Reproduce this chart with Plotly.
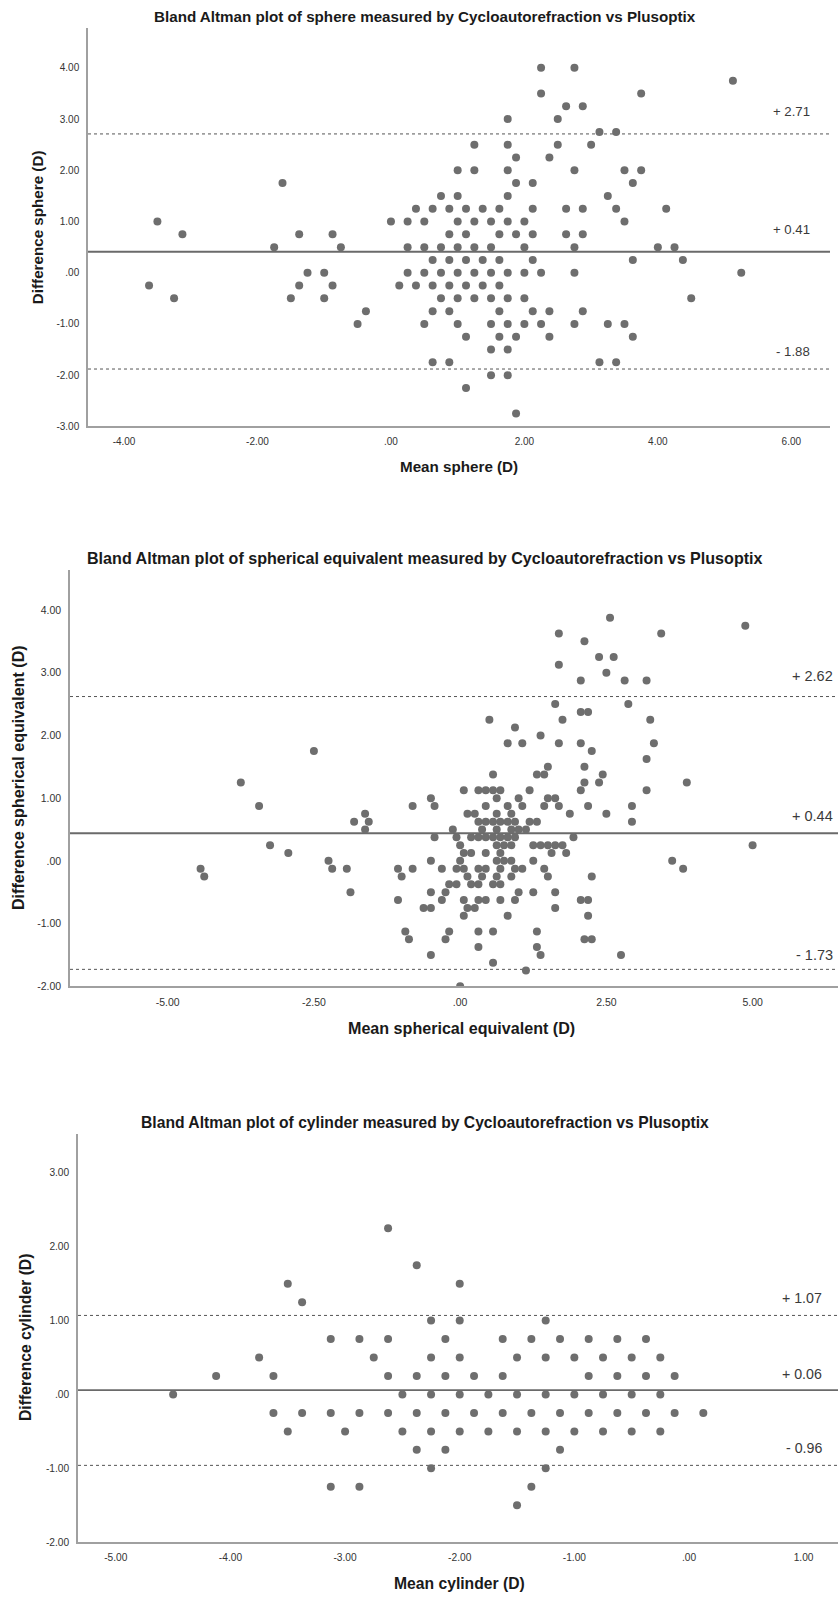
import plotly.graph_objects as go

# ---------------- data ----------------
sphere_mean = [
    2.25, 2.75,
    5.125,
    2.25, 3.75,
    2.625, 2.875,
    1.75, 2.5,
    3.125, 3.375,
    1.25, 1.75, 2.5, 3.0,
    1.875, 2.375,
    1.0, 1.25, 1.75, 2.75, 3.5, 3.75,
    -1.625, 1.875, 2.125, 3.625,
    0.75, 1.0, 1.75, 3.25,
    0.375, 0.625, 0.875, 1.125, 1.375, 1.625, 2.125, 2.625, 2.875, 3.375, 4.125,
    -3.5, 0.0, 0.25, 0.5, 1.0, 1.25, 1.5, 1.75, 2.0, 3.5,
    -3.125, -1.375, -0.875, 0.875, 1.125, 1.625, 1.875, 2.125, 2.625, 2.875,
    -1.75, -0.75, 0.25, 0.5, 0.75, 1.0, 1.25, 1.5, 2.0, 2.75, 4.0, 4.25,
    0.625, 0.875, 1.125, 1.375, 1.625, 2.125, 3.625, 4.375,
    -1.25, -1.0, 0.25, 0.5, 0.75, 1.0, 1.25, 1.5, 1.75, 2.0, 2.25, 2.75, 5.25,
    -3.625, -1.375, -0.875, 0.125, 0.375, 0.625, 0.875, 1.125, 1.375, 1.625,
    -3.25, -1.5, -1.0, 0.75, 1.0, 1.25, 1.5, 1.75, 2.0, 4.5,
    -0.375, 0.625, 0.875, 1.625, 2.125, 2.375, 2.875,
    -0.5, 0.5, 1.0, 1.5, 1.75, 2.0, 2.25, 2.75, 3.25, 3.5,
    1.125, 1.625, 1.875, 2.375, 3.625,
    1.5, 1.75,
    0.625, 0.875, 3.125, 3.375,
    1.5, 1.75,
    1.125,
    1.875,
]
sphere_diff = [
    4.0, 4.0,
    3.75,
    3.5, 3.5,
    3.25, 3.25,
    3.0, 3.0,
    2.75, 2.75,
    2.5, 2.5, 2.5, 2.5,
    2.25, 2.25,
    2.0, 2.0, 2.0, 2.0, 2.0, 2.0,
    1.75, 1.75, 1.75, 1.75,
    1.5, 1.5, 1.5, 1.5,
    1.25, 1.25, 1.25, 1.25, 1.25, 1.25, 1.25, 1.25, 1.25, 1.25, 1.25,
    1.0, 1.0, 1.0, 1.0, 1.0, 1.0, 1.0, 1.0, 1.0, 1.0,
    0.75, 0.75, 0.75, 0.75, 0.75, 0.75, 0.75, 0.75, 0.75, 0.75,
    0.5, 0.5, 0.5, 0.5, 0.5, 0.5, 0.5, 0.5, 0.5, 0.5, 0.5, 0.5,
    0.25, 0.25, 0.25, 0.25, 0.25, 0.25, 0.25, 0.25,
    0.0, 0.0, 0.0, 0.0, 0.0, 0.0, 0.0, 0.0, 0.0, 0.0, 0.0, 0.0, 0.0,
    -0.25, -0.25, -0.25, -0.25, -0.25, -0.25, -0.25, -0.25, -0.25, -0.25,
    -0.5, -0.5, -0.5, -0.5, -0.5, -0.5, -0.5, -0.5, -0.5, -0.5,
    -0.75, -0.75, -0.75, -0.75, -0.75, -0.75, -0.75,
    -1.0, -1.0, -1.0, -1.0, -1.0, -1.0, -1.0, -1.0, -1.0, -1.0,
    -1.25, -1.25, -1.25, -1.25, -1.25,
    -1.5, -1.5,
    -1.75, -1.75, -1.75, -1.75,
    -2.0, -2.0,
    -2.25,
    -2.75,
]
sphere_limits = [2.71, 0.41, -1.88]
sphere_labels = ["+ 2.71", "+ 0.41", "- 1.88"]

se_mean = [
    2.5625,
    4.875,
    1.6875, 3.4375,
    2.125,
    2.375, 2.625,
    1.6875,
    2.5,
    2.0625, 2.8125, 3.1875,
    1.625, 2.875,
    2.0625, 2.1875,
    0.5, 1.75, 3.25,
    0.9375,
    1.375,
    0.8125, 1.0625, 1.6875, 2.0625, 3.3125,
    -2.5, 2.25,
    3.1875,
    1.5, 2.125,
    0.5625, 1.3125, 1.4375, 2.4375,
    -3.75, 2.125, 2.375, 3.875,
    0.0625, 0.3125, 0.4375, 0.5625, 0.6875, 1.1875, 2.0625, 3.1875,
    -0.5, 0.625, 1.0, 1.5, 1.625,
    -3.4375, -0.8125, -0.4375, 0.4375, 0.8125, 1.0625, 1.4375, 1.6875, 2.1875, 2.9375,
    -1.625, 0.125, 0.25, 0.625, 0.875, 1.875, 2.5,
    -1.8125, -1.5625, 0.3125, 0.4375, 0.5625, 0.6875, 0.8125, 0.9375, 1.1875, 1.3125, 2.9375,
    -1.625, -0.125, 0.375, 0.625, 0.875, 1.0, 1.125,
    -0.4375, -0.0625, 0.1875, 0.3125, 0.4375, 0.5625, 0.6875, 0.8125, 0.9375, 1.9375,
    -3.25, 0.0, 0.625, 0.75, 0.875, 1.25, 1.375, 1.5, 1.625, 1.75, 5.0,
    -2.9375, 0.0625, 0.1875, 0.4375, 0.6875, 1.5625, 1.8125,
    -2.25, -0.5, 0.0, 0.625, 0.75, 0.875, 1.25, 3.625,
    -4.4375, -2.1875, -1.9375, -1.0625, -0.8125, -0.3125, -0.0625, 0.0625, 0.3125, 0.4375, 0.6875, 0.9375, 1.0625, 1.4375, 3.8125,
    -4.375, -1.0, 0.125, 0.375, 0.625, 0.875, 1.5, 2.25,
    -0.1875, -0.0625, 0.1875, 0.3125, 0.5625, 0.6875,
    -1.875, -0.5, -0.25, 1.0, 1.25, 1.625,
    -1.0625, -0.3125, 0.0625, 0.3125, 0.4375, 0.6875, 0.9375, 2.0625, 2.1875,
    -0.625, -0.5, 0.125, 0.25, 1.625,
    0.0625, 0.8125, 2.1875,
    -0.9375, -0.1875, 0.3125, 0.5625, 1.3125,
    -0.875, -0.25, 2.125, 2.25,
    0.3125, 1.3125,
    -0.5, 1.375, 2.75,
    0.5625,
    1.125,
    0.0,
]
se_diff = [
    3.875,
    3.75,
    3.625, 3.625,
    3.5,
    3.25, 3.25,
    3.125,
    3.0,
    2.875, 2.875, 2.875,
    2.5, 2.5,
    2.375, 2.375,
    2.25, 2.25, 2.25,
    2.125,
    2.0,
    1.875, 1.875, 1.875, 1.875, 1.875,
    1.75, 1.75,
    1.625,
    1.5, 1.5,
    1.375, 1.375, 1.375, 1.375,
    1.25, 1.25, 1.25, 1.25,
    1.125, 1.125, 1.125, 1.125, 1.125, 1.125, 1.125, 1.125,
    1.0, 1.0, 1.0, 1.0, 1.0,
    0.875, 0.875, 0.875, 0.875, 0.875, 0.875, 0.875, 0.875, 0.875, 0.875,
    0.75, 0.75, 0.75, 0.75, 0.75, 0.75, 0.75,
    0.625, 0.625, 0.625, 0.625, 0.625, 0.625, 0.625, 0.625, 0.625, 0.625, 0.625,
    0.5, 0.5, 0.5, 0.5, 0.5, 0.5, 0.5,
    0.375, 0.375, 0.375, 0.375, 0.375, 0.375, 0.375, 0.375, 0.375, 0.375,
    0.25, 0.25, 0.25, 0.25, 0.25, 0.25, 0.25, 0.25, 0.25, 0.25, 0.25,
    0.125, 0.125, 0.125, 0.125, 0.125, 0.125, 0.125,
    0.0, 0.0, 0.0, 0.0, 0.0, 0.0, 0.0, 0.0,
    -0.125, -0.125, -0.125, -0.125, -0.125, -0.125, -0.125, -0.125, -0.125, -0.125, -0.125, -0.125, -0.125, -0.125, -0.125,
    -0.25, -0.25, -0.25, -0.25, -0.25, -0.25, -0.25, -0.25,
    -0.375, -0.375, -0.375, -0.375, -0.375, -0.375,
    -0.5, -0.5, -0.5, -0.5, -0.5, -0.5,
    -0.625, -0.625, -0.625, -0.625, -0.625, -0.625, -0.625, -0.625, -0.625,
    -0.75, -0.75, -0.75, -0.75, -0.75,
    -0.875, -0.875, -0.875,
    -1.125, -1.125, -1.125, -1.125, -1.125,
    -1.25, -1.25, -1.25, -1.25,
    -1.375, -1.375,
    -1.5, -1.5, -1.5,
    -1.625,
    -1.75,
    -2.0,
]
se_limits = [2.62, 0.44, -1.73]
se_labels = ["+ 2.62", "+ 0.44", "- 1.73"]

cyl_mean = [
    -2.625,
    -2.375,
    -3.5, -2.0,
    -3.375,
    -2.25, -2.0, -1.25,
    -3.125, -2.875, -2.625, -2.125, -1.625, -1.375, -1.125, -0.875, -0.625, -0.375,
    -3.75, -2.75, -2.25, -2.0, -1.5, -1.25, -1.0, -0.75, -0.5, -0.25,
    -4.125, -3.625, -2.625, -2.375, -2.125, -1.875, -1.625, -0.875, -0.625, -0.375, -0.125,
    -4.5, -2.5, -2.25, -2.0, -1.75, -1.5, -1.25, -1.0, -0.75, -0.5, -0.25,
    -3.625, -3.375, -3.125, -2.875, -2.625, -2.375, -2.125, -1.875, -1.625, -1.375, -1.125, -0.875, -0.625, -0.375, -0.125, 0.125,
    -3.5, -3.0, -2.5, -2.25, -2.0, -1.75, -1.5, -1.25, -1.0, -0.75, -0.5, -0.25,
    -2.375, -2.125, -1.125,
    -2.25, -1.25,
    -3.125, -2.875, -1.375,
    -1.5,
]
cyl_diff = [
    2.25,
    1.75,
    1.5, 1.5,
    1.25,
    1.0, 1.0, 1.0,
    0.75, 0.75, 0.75, 0.75, 0.75, 0.75, 0.75, 0.75, 0.75, 0.75,
    0.5, 0.5, 0.5, 0.5, 0.5, 0.5, 0.5, 0.5, 0.5, 0.5,
    0.25, 0.25, 0.25, 0.25, 0.25, 0.25, 0.25, 0.25, 0.25, 0.25, 0.25,
    0.0, 0.0, 0.0, 0.0, 0.0, 0.0, 0.0, 0.0, 0.0, 0.0, 0.0,
    -0.25, -0.25, -0.25, -0.25, -0.25, -0.25, -0.25, -0.25, -0.25, -0.25, -0.25, -0.25, -0.25, -0.25, -0.25, -0.25,
    -0.5, -0.5, -0.5, -0.5, -0.5, -0.5, -0.5, -0.5, -0.5, -0.5, -0.5, -0.5,
    -0.75, -0.75, -0.75,
    -1.0, -1.0,
    -1.25, -1.25, -1.25,
    -1.5,
]
cyl_limits = [1.07, 0.06, -0.96]
cyl_labels = ["+ 1.07", "+ 0.06", "- 0.96"]

assert len(sphere_mean) == len(sphere_diff)
assert len(se_mean) == len(se_diff)
assert len(cyl_mean) == len(cyl_diff)

sphere_xticks = [-4, -2, 0, 2, 4, 6]
sphere_xtext = ["-4.00", "-2.00", ".00", "2.00", "4.00", "6.00"]
sphere_yticks = [-3, -2, -1, 0, 1, 2, 3, 4]
sphere_ytext = ["-3.00", "-2.00", "-1.00", ".00", "1.00", "2.00", "3.00", "4.00"]

se_xticks = [-5, -2.5, 0, 2.5, 5]
se_xtext = ["-5.00", "-2.50", ".00", "2.50", "5.00"]
se_yticks = [-2, -1, 0, 1, 2, 3, 4]
se_ytext = ["-2.00", "-1.00", ".00", "1.00", "2.00", "3.00", "4.00"]

cyl_xticks = [-5, -4, -3, -2, -1, 0, 1]
cyl_xtext = ["-5.00", "-4.00", "-3.00", "-2.00", "-1.00", ".00", "1.00"]
cyl_yticks = [-2, -1, 0, 1, 2, 3]
cyl_ytext = ["-2.00", "-1.00", ".00", "1.00", "2.00", "3.00"]

titles = [
    "Bland Altman plot of sphere measured by Cycloautorefraction vs Plusoptix",
    "Bland Altman plot of spherical equivalent measured by Cycloautorefraction vs Plusoptix",
    "Bland Altman plot of cylinder measured by Cycloautorefraction vs Plusoptix",
]
x_titles = ["Mean sphere (D)", "Mean spherical equivalent (D)", "Mean cylinder (D)"]
y_titles = ["Difference sphere (D)", "Difference spherical equivalent (D)", "Difference cylinder (D)"]

# ---------------- figure ----------------
W, H = 838, 1600
FONT = "Liberation Sans, Arial, Helvetica, sans-serif"
MARK = "#6e6e6e"

fig = go.Figure()

panels = [
    dict(mx=sphere_mean, dy=sphere_diff, lim=sphere_limits, lab=sphere_labels,
         xt=sphere_xticks, xtt=sphere_xtext, yt=sphere_yticks, ytt=sphere_ytext,
         xr=[-4.54, 6.58], yr=[-3.0, 4.78],
         px=(88, 830), py=(28, 428),
         title_y=17, xtitle_xy=(459, 468), ytitle_xy=(37, 228),
         lab_right=812, lab_shift=[22, 22, 18],
         fs_title=15.2, fs_tick=10, fs_lab=13.2),
    dict(mx=se_mean, dy=se_diff, lim=se_limits, lab=se_labels,
         xt=se_xticks, xtt=se_xtext, yt=se_yticks, ytt=se_ytext,
         xr=[-6.67, 6.46], yr=[-2.0, 4.64],
         px=(70, 838), py=(572, 990),
         title_y=560, xtitle_xy=(461, 1032), ytitle_xy=(18, 781),
         lab_right=835, lab_shift=[21, 17, 14],
         fs_title=16.1, fs_tick=10.5, fs_lab=14.5),
    dict(mx=cyl_mean, dy=cyl_diff, lim=cyl_limits, lab=cyl_labels,
         xt=cyl_xticks, xtt=cyl_xtext, yt=cyl_yticks, ytt=cyl_ytext,
         xr=[-5.33, 1.30], yr=[-2.0, 3.53],
         px=(78, 838), py=(1138, 1548),
         title_y=1127, xtitle_xy=(459, 1589), ytitle_xy=(26, 1343),
         lab_right=824, lab_shift=[17, 16, 17],
         fs_title=15.7, fs_tick=10.2, fs_lab=14.2),
]

annotations = []
shapes = []
layout_axes = {}

for i, p in enumerate(panels):
    n = "" if i == 0 else str(i + 1)
    xa, ya = "x" + n, "y" + n
    fig.add_trace(go.Scatter(
        x=p["mx"], y=p["dy"], mode="markers", xaxis=xa, yaxis=ya,
        marker=dict(size=8, color=MARK, line=dict(width=0)),
        showlegend=False, hoverinfo="x+y"))

    xd = [p["px"][0] / W, p["px"][1] / W]
    yd = [1 - p["py"][1] / H, 1 - p["py"][0] / H]
    axis_common = dict(showgrid=False, zeroline=False, showline=True,
                       linecolor="#a0a0a0", linewidth=1.5,
                       ticks="outside", ticklen=5, tickcolor="rgba(0,0,0,0)",
                       tickfont=dict(family=FONT, size=p["fs_tick"], color="#333333"),
                       fixedrange=True)
    layout_axes["xaxis" + n] = dict(axis_common, domain=xd, range=p["xr"], anchor=ya,
                                    tickmode="array", tickvals=p["xt"], ticktext=p["xtt"])
    layout_axes["yaxis" + n] = dict(axis_common, domain=yd, range=p["yr"], anchor=xa,
                                    tickmode="array", tickvals=p["yt"], ticktext=p["ytt"])

    for j, v in enumerate(p["lim"]):
        shapes.append(dict(type="line", xref=xa + " domain", yref=ya, x0=0, x1=1, y0=v, y1=v,
                           line=dict(color="#555555" if j != 1 else "#6a6a6a",
                                     width=1 if j != 1 else 1.8,
                                     dash="dot" if j != 1 else "solid"),
                           layer="below"))
        annotations.append(dict(text=p["lab"][j], xref="paper", yref=ya,
                                x=p["lab_right"] / W, y=v, xanchor="right", yanchor="middle",
                                yshift=p["lab_shift"][j], showarrow=False,
                                font=dict(family=FONT, size=p["fs_lab"], color="#3a3a3a")))

    annotations.append(dict(text="<b>" + titles[i] + "</b>", xref="paper", yref="paper",
                            x=425 / W, y=1 - p["title_y"] / H, xanchor="center", yanchor="middle",
                            showarrow=False, font=dict(family=FONT, size=p["fs_title"], color="#1a1a1a")))
    annotations.append(dict(text="<b>" + x_titles[i] + "</b>", xref="paper", yref="paper",
                            x=p["xtitle_xy"][0] / W, y=1 - p["xtitle_xy"][1] / H,
                            xanchor="center", yanchor="middle",
                            showarrow=False, font=dict(family=FONT, size=p["fs_title"], color="#1a1a1a")))
    annotations.append(dict(text="<b>" + y_titles[i] + "</b>", xref="paper", yref="paper",
                            x=p["ytitle_xy"][0] / W, y=1 - p["ytitle_xy"][1] / H,
                            xanchor="center", yanchor="middle", textangle=-90,
                            showarrow=False, font=dict(family=FONT, size=p["fs_title"], color="#1a1a1a")))

fig.update_layout(
    width=W, height=H,
    margin=dict(l=0, r=0, t=0, b=0),
    paper_bgcolor="white", plot_bgcolor="white",
    font=dict(family=FONT),
    annotations=annotations, shapes=shapes,
    **layout_axes,
)

fig.write_html(
    "out.html",
    config={"displayModeBar": False},
    post_script="document.body.style.margin='0';document.body.style.padding='0';"
                "document.body.style.overflow='hidden';"
                "document.documentElement.style.overflow='hidden';",
)
